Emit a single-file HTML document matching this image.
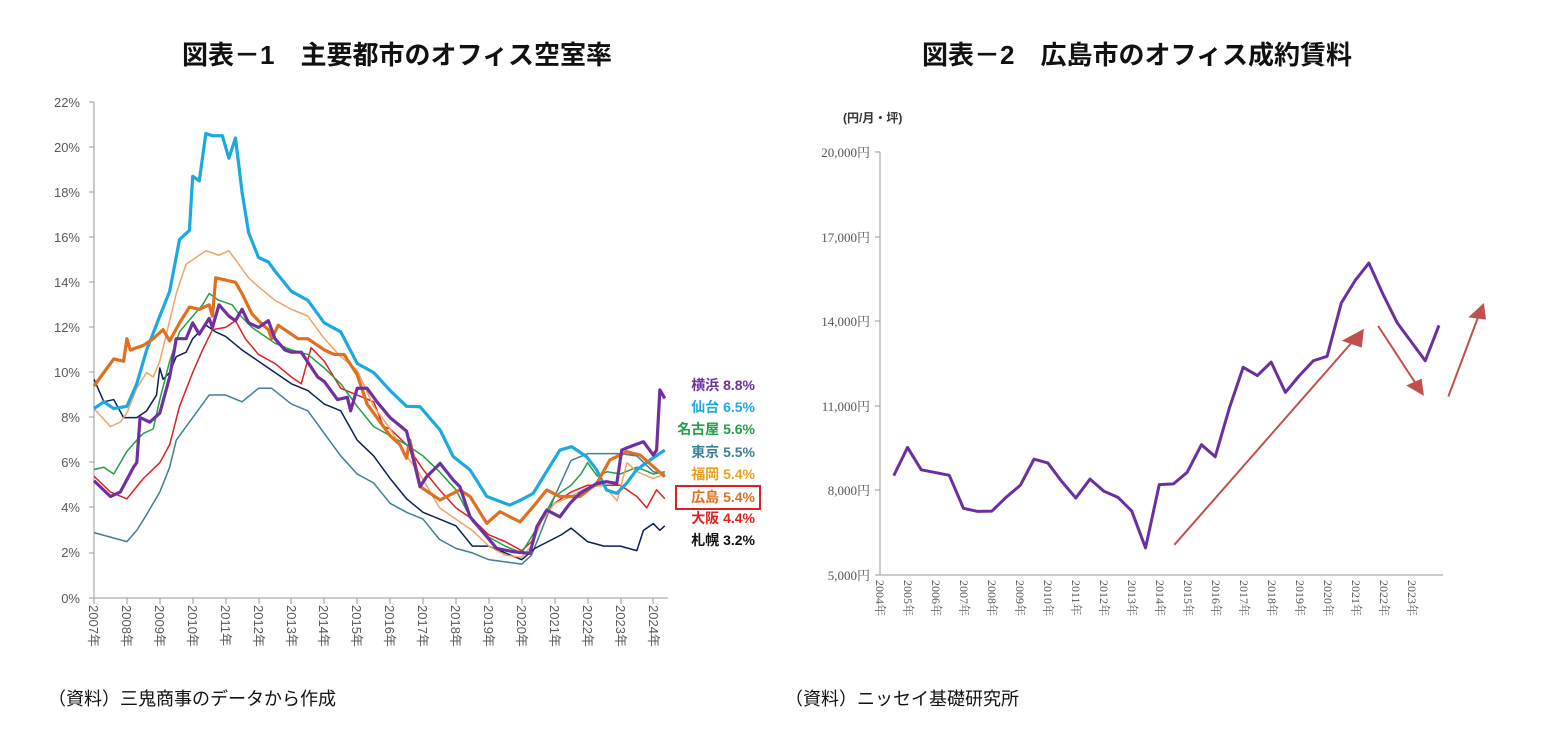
<!DOCTYPE html>
<html><head><meta charset="utf-8"><style>
body{margin:0;background:#fff;width:1551px;height:753px;overflow:hidden}
svg{display:block}
</style></head><body>
<svg width="1551" height="753" xmlns="http://www.w3.org/2000/svg" font-family="Liberation Sans, Noto Sans CJK JP, sans-serif">
<text x="397" y="64" text-anchor="middle" font-size="26" font-weight="bold" fill="#111">図表－1　主要都市のオフィス空室率</text>
<text x="1137" y="64" text-anchor="middle" font-size="26" font-weight="bold" fill="#111">図表－2　広島市のオフィス成約賃料</text>
<text x="48" y="705" font-size="18" fill="#111">（資料）三鬼商事のデータから作成</text>
<text x="785" y="705" font-size="18" fill="#111">（資料）ニッセイ基礎研究所</text>

<!-- Chart 1 axes -->
<g stroke="#999" stroke-width="1" fill="none">
<line x1="94" y1="102" x2="94" y2="598"/>
<line x1="94" y1="598" x2="668" y2="598"/>
</g>
<g font-size="13" fill="#595959" text-anchor="end">
<text x="80" y="107">22%</text><text x="80" y="152">20%</text><text x="80" y="197">18%</text><text x="80" y="242">16%</text><text x="80" y="287">14%</text><text x="80" y="332">12%</text><text x="80" y="377">10%</text><text x="80" y="422">8%</text><text x="80" y="467">6%</text><text x="80" y="512">4%</text><text x="80" y="557">2%</text><text x="80" y="603">0%</text>
</g>
<g stroke="#999"><line x1="89" y1="102" x2="94" y2="102"/><line x1="89" y1="147" x2="94" y2="147"/><line x1="89" y1="192" x2="94" y2="192"/><line x1="89" y1="237" x2="94" y2="237"/><line x1="89" y1="282" x2="94" y2="282"/><line x1="89" y1="327" x2="94" y2="327"/><line x1="89" y1="372" x2="94" y2="372"/><line x1="89" y1="417" x2="94" y2="417"/><line x1="89" y1="462" x2="94" y2="462"/><line x1="89" y1="507" x2="94" y2="507"/><line x1="89" y1="553" x2="94" y2="553"/><line x1="89" y1="598" x2="94" y2="598"/></g>
<g font-size="13" fill="#595959">
<text transform="translate(89,605) rotate(90)">2007年</text><text transform="translate(122,605) rotate(90)">2008年</text><text transform="translate(155,605) rotate(90)">2009年</text><text transform="translate(188,605) rotate(90)">2010年</text><text transform="translate(221,605) rotate(90)">2011年</text><text transform="translate(254,605) rotate(90)">2012年</text><text transform="translate(287,605) rotate(90)">2013年</text><text transform="translate(319,605) rotate(90)">2014年</text><text transform="translate(352,605) rotate(90)">2015年</text><text transform="translate(385,605) rotate(90)">2016年</text><text transform="translate(418,605) rotate(90)">2017年</text><text transform="translate(451,605) rotate(90)">2018年</text><text transform="translate(484,605) rotate(90)">2019年</text><text transform="translate(517,605) rotate(90)">2020年</text><text transform="translate(550,605) rotate(90)">2021年</text><text transform="translate(583,605) rotate(90)">2022年</text><text transform="translate(616,605) rotate(90)">2023年</text><text transform="translate(649,605) rotate(90)">2024年</text>
</g>
<g stroke="#999"><line x1="94" y1="598" x2="94" y2="604"/><line x1="127" y1="598" x2="127" y2="604"/><line x1="160" y1="598" x2="160" y2="604"/><line x1="193" y1="598" x2="193" y2="604"/><line x1="226" y1="598" x2="226" y2="604"/><line x1="259" y1="598" x2="259" y2="604"/><line x1="291" y1="598" x2="291" y2="604"/><line x1="324" y1="598" x2="324" y2="604"/><line x1="357" y1="598" x2="357" y2="604"/><line x1="390" y1="598" x2="390" y2="604"/><line x1="423" y1="598" x2="423" y2="604"/><line x1="456" y1="598" x2="456" y2="604"/><line x1="489" y1="598" x2="489" y2="604"/><line x1="522" y1="598" x2="522" y2="604"/><line x1="555" y1="598" x2="555" y2="604"/><line x1="588" y1="598" x2="588" y2="604"/><line x1="621" y1="598" x2="621" y2="604"/><line x1="653" y1="598" x2="653" y2="604"/></g>

<g transform="matrix(32.9,0,0,-22.55,94,598)" fill="none" stroke-linejoin="round">
<polyline vector-effect="non-scaling-stroke" stroke="#3d8096" stroke-width="1.5" points="0,2.9 0.5,2.7 1,2.5 1.3,3 1.6,3.7 2,4.7 2.3,5.8 2.5,7 3,8 3.5,9 4,9 4.5,8.7 5,9.3 5.4,9.3 6,8.6 6.5,8.3 7,7.3 7.5,6.3 8,5.5 8.5,5.1 9,4.2 9.5,3.8 10,3.5 10.5,2.6 11,2.2 11.5,2 12,1.7 12.5,1.6 13,1.5 13.3,1.9 13.6,3 14,4.5 14.5,6.1 15,6.4 15.5,6.4 16,6.4 16.5,6.3 17,5.6 17.35,5.5"/>
<polyline vector-effect="non-scaling-stroke" stroke="#0a1f5c" stroke-width="1.5" points="0,9.7 0.3,8.7 0.6,8.8 0.9,8 1.3,8 1.6,8.3 1.9,9 2,10.2 2.1,9.7 2.3,10 2.5,10.7 2.8,10.9 3,11.5 3.4,12.1 3.7,11.8 4,11.6 4.5,11 5,10.5 5.5,10 6,9.5 6.5,9.2 7,8.6 7.5,8.3 8,7 8.5,6.3 9,5.3 9.5,4.4 10,3.8 10.5,3.5 11,3.2 11.5,2.3 12,2.3 12.5,2 13,1.7 13.4,2.2 13.8,2.5 14.2,2.8 14.5,3.1 15,2.5 15.5,2.3 16,2.3 16.5,2.1 16.7,3 17,3.3 17.2,3 17.35,3.2"/>
<polyline vector-effect="non-scaling-stroke" stroke="#e02020" stroke-width="1.5" points="0,5.4 0.5,4.7 1,4.4 1.5,5.3 2,6 2.3,6.8 2.6,8.5 3,10 3.3,11 3.6,11.9 4,12 4.3,12.3 4.6,11.5 5,10.8 5.5,10.4 6,9.8 6.3,9.5 6.6,11.1 7,10.5 7.5,9.3 8,9 8.5,8.7 8.8,7.6 9,7.5 9.5,6.8 10,5.7 10.5,4.8 11,4 11.5,3.5 12,2.8 12.5,2.5 13,2.1 13.3,2.5 13.6,3.5 14,4.2 14.5,4.7 15,5 15.5,5 16,5 16.5,4.5 16.8,4 17.1,4.8 17.35,4.4"/>
<polyline vector-effect="non-scaling-stroke" stroke="#22a046" stroke-width="1.5" points="0,5.7 0.3,5.8 0.6,5.5 1,6.5 1.3,7 1.5,7.3 1.8,7.5 2,8.8 2.3,10.5 2.6,11.8 3,12.5 3.3,13 3.5,13.5 3.8,13.2 4.2,13 4.4,12.6 4.8,12 5,11.8 5.5,11.3 6,11 6.5,10.8 7,10.2 7.5,9.5 8,8.5 8.5,7.6 9,7.2 9.5,6.8 10,6.3 10.5,5.6 11,4.8 11.5,3.4 12,2.7 12.5,2.3 13,2 13.5,3.2 14,4.5 14.5,5 14.8,5.5 15,6 15.3,5.4 15.6,5.6 16,5.5 16.5,5.8 17,5.5 17.35,5.6"/>
<polyline vector-effect="non-scaling-stroke" stroke="#f2a266" stroke-width="1.5" points="0,8.4 0.5,7.6 0.8,7.8 1,8.2 1.3,9.3 1.6,10 1.8,9.8 2,10.5 2.5,13.5 2.8,14.8 3,15 3.4,15.4 3.8,15.2 4.1,15.4 4.4,14.8 4.7,14.2 5,13.8 5.5,13.2 6,12.8 6.5,12.5 7,11.5 7.5,10.7 8,10.1 8.5,8.5 9,7.5 9.5,6.3 9.9,5.5 10.5,4 11,3.5 11.5,3 12,2.3 12.5,1.9 13,1.8 13.3,2.3 13.6,3.4 14,4.2 14.5,4.5 15,4.9 15.5,5 15.9,4.3 16.2,6 16.5,5.6 17,5.3 17.35,5.5"/>
<polyline vector-effect="non-scaling-stroke" stroke="#1ba9e0" stroke-width="3.2" points="0,8.4 0.3,8.7 0.6,8.4 1,8.5 1.3,9.5 1.6,11 2,12.5 2.3,13.6 2.6,15.9 2.9,16.3 3,18.7 3.2,18.5 3.4,20.6 3.6,20.5 3.9,20.5 4.1,19.5 4.3,20.4 4.5,18 4.7,16.2 5,15.1 5.3,14.9 5.5,14.5 6,13.6 6.5,13.2 7,12.2 7.5,11.8 8,10.4 8.5,10 9,9.2 9.5,8.5 9.91,8.48 10.52,7.45 10.92,6.27 11.43,5.68 11.94,4.5 12.64,4.12 12.98,4.35 13.35,4.64 13.66,5.38 14.16,6.56 14.52,6.71 14.97,6.27 15.28,5.68 15.58,4.79 15.89,4.64 16.19,5.09 16.49,5.68 16.9,6.12 17.35,6.56"/>
<polyline vector-effect="non-scaling-stroke" stroke="#e07020" stroke-width="3.2" points="0,9.4 0.3,10 0.6,10.6 0.9,10.5 1,11.5 1.1,11 1.5,11.2 1.8,11.5 2.1,11.9 2.3,11.4 2.6,12.2 2.9,12.9 3.2,12.8 3.5,13 3.6,12.5 3.7,14.2 4,14.1 4.3,14 4.5,13.5 4.8,12.6 5,12.3 5.3,11.9 5.4,11.5 5.6,12.1 5.8,11.9 6.2,11.5 6.5,11.5 7,11 7.3,10.8 7.6,10.8 8,9.9 8.3,8.6 8.6,8 9,7.2 9.3,6.8 9.5,6.2 9.6,7 9.91,4.94 10.52,4.35 11.12,4.79 11.43,4.5 11.94,3.31 12.34,3.83 12.64,3.6 12.95,3.38 13.35,4.05 13.76,4.79 14.16,4.5 14.77,4.5 15.28,5.08 15.68,6.12 16.19,6.49 16.6,6.34 17,5.83 17.35,5.38"/>
<polyline vector-effect="non-scaling-stroke" stroke="#7030a0" stroke-width="3.2" points="0,5.2 0.5,4.5 0.8,4.7 1.2,5.8 1.3,6 1.4,8 1.7,7.8 2,8.2 2.3,9.8 2.5,11.5 2.8,11.5 3,12.2 3.2,11.7 3.5,12.4 3.6,12 3.8,13 4.1,12.5 4.3,12.3 4.5,12.8 4.7,12.2 5,12 5.3,12.3 5.5,11.5 5.8,11 6,10.9 6.3,10.9 6.8,9.8 7,9.6 7.2,9.2 7.4,8.8 7.7,8.9 7.8,8.3 8,9.3 8.3,9.3 8.6,8.7 9,8 9.5,7.4 9.91,4.94 10.11,5.38 10.52,5.97 10.92,5.23 11.12,4.94 11.43,3.6 11.94,2.72 12.24,2.2 12.75,2.05 13.25,1.98 13.46,3.16 13.76,3.9 14.16,3.6 14.47,4.2 14.77,4.64 15.28,5.08 15.58,5.16 15.89,5.08 16.04,6.56 16.29,6.71 16.7,6.93 17,6.34 17.1,6.56 17.2,9.23 17.35,8.85"/>
</g>
<g font-size="14" font-weight="bold" text-anchor="end">
<text x="755" y="390" fill="#7030a0">横浜 8.8%</text>
<text x="755" y="412" fill="#1ba9e0">仙台 6.5%</text>
<text x="755" y="434" fill="#22a046">名古屋 5.6%</text>
<text x="755" y="457" fill="#3d8096">東京 5.5%</text>
<text x="755" y="479" fill="#e8a020">福岡 5.4%</text>
<text x="755" y="523" fill="#e02020">大阪 4.4%</text>
<text x="755" y="545" fill="#111">札幌 3.2%</text>
<rect x="676" y="486" width="84" height="23" fill="#fff" stroke="#e02020" stroke-width="2"/>
<text x="755" y="502" fill="#e07020">広島 5.4%</text>
</g>

<!-- Chart 2 -->
<text x="843" y="122" font-size="12" font-weight="bold" fill="#333">(円/月・坪)</text>
<g stroke="#999"><line x1="880" y1="152" x2="880" y2="575"/><line x1="880" y1="575" x2="1443" y2="575"/>
<line x1="875" y1="152" x2="880" y2="152"/><line x1="875" y1="237" x2="880" y2="237"/><line x1="875" y1="321" x2="880" y2="321"/><line x1="875" y1="406" x2="880" y2="406"/><line x1="875" y1="490" x2="880" y2="490"/><line x1="875" y1="575" x2="880" y2="575"/></g>
<g font-family="Liberation Serif, Noto Serif CJK SC, serif" font-size="13" fill="#555" text-anchor="end">
<text x="870" y="157">20,000円</text><text x="870" y="242">17,000円</text><text x="870" y="326">14,000円</text><text x="870" y="411">11,000円</text><text x="870" y="495">8,000円</text><text x="870" y="580">5,000円</text>
</g>
<g font-family="Liberation Serif, Noto Serif CJK SC, serif" font-size="12" fill="#555">
<text transform="translate(876,580) rotate(90)">2004年</text><text transform="translate(904,580) rotate(90)">2005年</text><text transform="translate(932,580) rotate(90)">2006年</text><text transform="translate(960,580) rotate(90)">2007年</text><text transform="translate(988,580) rotate(90)">2008年</text><text transform="translate(1016,580) rotate(90)">2009年</text><text transform="translate(1044,580) rotate(90)">2010年</text><text transform="translate(1072,580) rotate(90)">2011年</text><text transform="translate(1100,580) rotate(90)">2012年</text><text transform="translate(1128,580) rotate(90)">2013年</text><text transform="translate(1156,580) rotate(90)">2014年</text><text transform="translate(1184,580) rotate(90)">2015年</text><text transform="translate(1212,580) rotate(90)">2016年</text><text transform="translate(1240,580) rotate(90)">2017年</text><text transform="translate(1268,580) rotate(90)">2018年</text><text transform="translate(1296,580) rotate(90)">2019年</text><text transform="translate(1324,580) rotate(90)">2020年</text><text transform="translate(1352,580) rotate(90)">2021年</text><text transform="translate(1380,580) rotate(90)">2022年</text><text transform="translate(1408,580) rotate(90)">2023年</text>
</g>
<g transform="matrix(0.444,0,0,0.344,791.2,100)">
<polyline vector-effect="non-scaling-stroke" fill="none" stroke="#6a2fa0" stroke-width="3" stroke-linejoin="round" points="231,1092 262,1010 293,1075 325,1083 356,1091 388,1187 420,1196 452,1195 484,1155 516,1120 547,1044 578,1055 610,1110 641,1157 673,1102 704,1137 736,1155 767,1195 798,1302 829,1118 861,1116 892,1082 924,1002 955,1037 987,895 1018,777 1050,801 1081,762 1113,850 1144,802 1176,758 1207,745 1239,590 1270,525 1301,474 1333,565 1365,648 1396,702 1428,758 1459,655"/>
<g stroke="#c0504d" stroke-width="2" fill="#c0504d">
<line vector-effect="non-scaling-stroke" x1="863" y1="1293" x2="1268" y2="697"/>
<polygon points="1290,665 1240,700 1285,720" stroke="none"/>
<line vector-effect="non-scaling-stroke" x1="1322" y1="657" x2="1408" y2="827"/>
<polygon points="1425,860 1385,830 1420,810" stroke="none"/>
<line vector-effect="non-scaling-stroke" x1="1480" y1="862" x2="1548" y2="628"/>
<polygon points="1560,590 1525,632 1565,638" stroke="none"/>
</g>
</g>
</svg>
</body></html>
